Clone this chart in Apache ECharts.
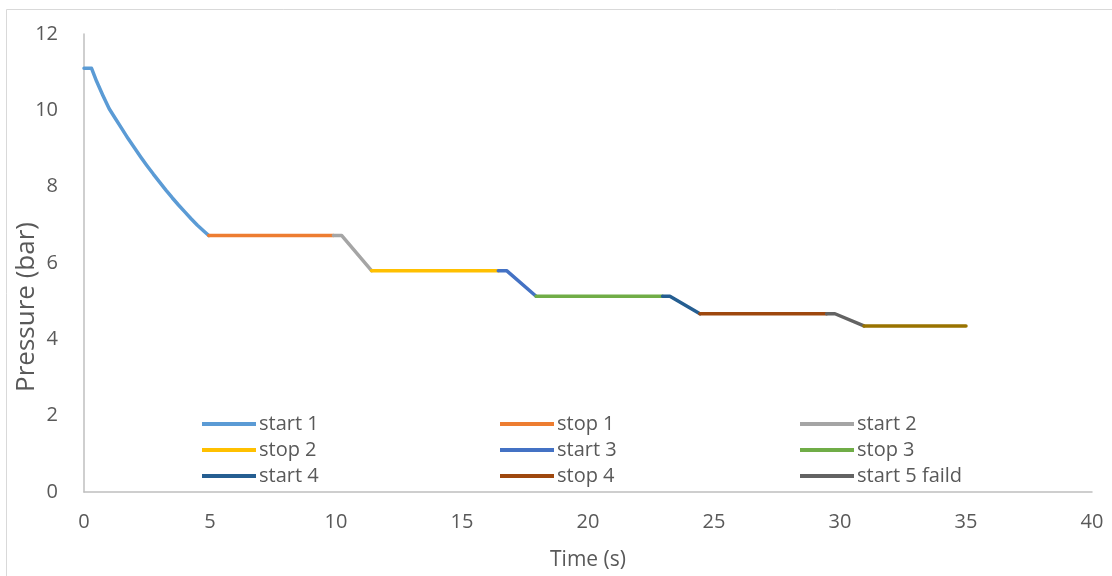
<!DOCTYPE html>
<html>
<head>
<meta charset="utf-8">
<script src="https://cdn.jsdelivr.net/npm/echarts@6/dist/echarts.min.js"></script>
<style>
html,body{margin:0;padding:0;background:#fff;}
#chart{width:1112px;height:576px;}
</style>
</head>
<body>
<div id="chart"></div>
<script>
// Series names (legend order is row-wise in the reference)
const seriesNames = ['start 1','stop 1','start 2','stop 2','start 3','stop 3','start 4','stop 4','start 5 faild','stop 5'];
const seriesColors = ['#5B9BD5','#ED7D31','#A5A5A5','#FFC000','#4472C4','#70AD47','#255E91','#9E480E','#636363','#997300'];

// Time (s) and pressure (bar) per segment
const start1Time = [0, 0.3, 0.5, 0.75, 1, 1.25, 1.5, 1.75, 2, 2.25, 2.5, 2.75, 3, 3.25, 3.5, 3.75, 4, 4.25, 4.5, 4.75, 4.95];
const start1Pres = [11.1, 11.1, 10.76, 10.39, 10.04, 9.78, 9.52, 9.26, 9.02, 8.78, 8.55, 8.33, 8.12, 7.91, 7.71, 7.52, 7.34, 7.16, 6.99, 6.84, 6.72];
const stop1Time = [4.95, 9.9];
const stop1Pres = [6.72, 6.72];
const start2Time = [9.9, 10.23, 11.41];
const start2Pres = [6.72, 6.72, 5.8];
const stop2Time = [11.41, 16.44];
const stop2Pres = [5.8, 5.8];
const start3Time = [16.44, 16.77, 17.94];
const start3Pres = [5.8, 5.8, 5.13];
const stop3Time = [17.94, 22.96];
const stop3Pres = [5.13, 5.13];
const start4Time = [22.96, 23.25, 24.44];
const start4Pres = [5.13, 5.13, 4.67];
const stop4Time = [24.44, 29.47];
const stop4Pres = [4.67, 4.67];
const start5Time = [29.47, 29.8, 30.95];
const start5Pres = [4.67, 4.67, 4.35];
const stop5Time = [30.95, 35.0];
const stop5Pres = [4.35, 4.35];

const xTicks = {min: 0, max: 40, interval: 5};
const yTicks = {min: 0, max: 12, interval: 2};

const segTimes = [start1Time, stop1Time, start2Time, stop2Time, start3Time, stop3Time, start4Time, stop4Time, start5Time, stop5Time];
const segPres = [start1Pres, stop1Pres, start2Pres, stop2Pres, start3Pres, stop3Pres, start4Pres, stop4Pres, start5Pres, stop5Pres];

const FONT = 'Open Sans';
const TXT = '#595959';

const series = seriesNames.map((name, i) => ({
  name: name,
  type: 'line',
  symbol: 'none',
  smooth: false,
  data: segTimes[i].map((t, k) => [t, segPres[i][k]]),
  lineStyle: {color: seriesColors[i], width: 3.5, cap: 'round', join: 'round'},
  itemStyle: {color: seriesColors[i]},
  z: 2 + i
}));

function legendCol(left, names) {
  return {
    orient: 'vertical',
    left: left,
    top: 414,
    padding: 0,
    itemWidth: 54,
    itemHeight: 14,
    itemGap: 6,
    data: names,
    textStyle: {fontFamily: FONT, fontSize: 20, lineHeight: 20, color: TXT, padding: [0, 0, 0, -2]},
    icon: 'path://M0,0L54,0L54,4L0,4Z'
  };
}

const chart = echarts.init(document.getElementById('chart'), null, {renderer: 'canvas'});
chart.setOption({
  animation: false,
  backgroundColor: '#fff',
  grid: {left: 84, right: 20, top: 34, bottom: 83, containLabel: false},
  graphic: [{
    type: 'rect',
    shape: {x: 6.5, y: 9.5, width: 1200, height: 700},
    style: {fill: 'none', stroke: '#d9d9d9', lineWidth: 1},
    silent: true, z: -1
  }],
  legend: [
    legendCol(202, ['start 1', 'stop 2', 'start 4']),
    legendCol(500, ['stop 1', 'start 3', 'stop 4']),
    legendCol(800, ['start 2', 'stop 3', 'start 5 faild'])
  ],
  xAxis: {
    type: 'value',
    min: xTicks.min, max: xTicks.max, interval: xTicks.interval,
    name: 'Time (s)',
    nameLocation: 'middle',
    nameGap: 58,
    nameMoveOverlap: false,
    nameTextStyle: {fontFamily: FONT, fontSize: 21, color: TXT},
    axisLine: {show: true, lineStyle: {color: '#bfbfbf', width: 1.5}},
    axisTick: {show: false},
    splitLine: {show: false},
    axisLabel: {fontFamily: FONT, fontSize: 20, color: TXT, margin: 20}
  },
  yAxis: {
    type: 'value',
    min: yTicks.min, max: yTicks.max, interval: yTicks.interval,
    name: 'Pressure (bar)',
    nameLocation: 'middle',
    nameGap: 44,
    nameMoveOverlap: false,
    nameRotate: 90,
    nameTextStyle: {fontFamily: FONT, fontSize: 26, color: TXT, padding: [0, 88, 0, 0]},
    axisLine: {show: true, lineStyle: {color: '#bfbfbf', width: 1.5}},
    axisTick: {show: false},
    splitLine: {show: false},
    axisLabel: {fontFamily: FONT, fontSize: 20, color: TXT, margin: 26}
  },
  series: series
});
</script>
</body>
</html>
